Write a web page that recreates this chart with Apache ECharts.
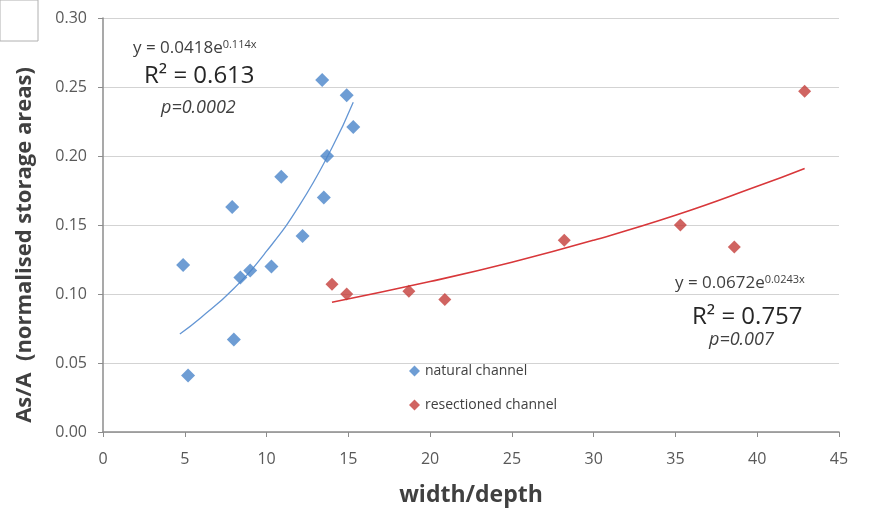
<!DOCTYPE html>
<html>
<head>
<meta charset="utf-8">
<script src="https://cdn.jsdelivr.net/npm/echarts@6/dist/echarts.min.js"></script>
<style>
  html, body { margin: 0; padding: 0; background: #fff; }
  #chart { width: 883px; height: 514px; }
</style>
</head>
<body>
<div id="chart"></div>
<script>
// points: [width/depth, As/A]
const naturalPoints = [
  [4.9, 0.121], [5.2, 0.041], [7.9, 0.163], [8.0, 0.067], [8.4, 0.112],
  [9.0, 0.117], [10.3, 0.120], [10.9, 0.185], [12.2, 0.142], [13.4, 0.255],
  [13.5, 0.170], [13.7, 0.200], [14.9, 0.244], [15.3, 0.221]
];
const resectionedPoints = [
  [14.0, 0.107], [14.9, 0.100], [18.7, 0.102], [20.9, 0.096],
  [28.2, 0.139], [35.3, 0.150], [38.6, 0.134], [42.9, 0.247]
];

// trend curves
const naturalTrend = [
  [4.7, 0.071], [6, 0.083], [8, 0.104], [10, 0.131], [12, 0.164], [14, 0.206], [15.3, 0.239]
];
const resectionedTrend = [
  [14, 0.094], [20, 0.109], [25, 0.123], [30, 0.139], [35, 0.157], [40, 0.178], [42.9, 0.191]
];

const xTicks = [0, 5, 10, 15, 20, 25, 30, 35, 40, 45];
const yTicks = [0, 0.05, 0.10, 0.15, 0.20, 0.25, 0.30];

const blue = '#4A84C9';
const red = '#C43D3A';
const font = '"Open Sans", Lato, sans-serif';
const textDark = '#404040';

const chart = echarts.init(document.getElementById('chart'));

// equation labels with a superscript exponent
const eqRich = {
  b: { fontSize: 17, fontFamily: font, fill: textDark },
  s: { fontSize: 11, fontFamily: font, fill: textDark, verticalAlign: 'top' }
};

chart.setOption({
  backgroundColor: '#fff',
  animation: false,
  grid: { left: 103, right: 44, top: 18, bottom: 82 },
  xAxis: {
    type: 'value',
    min: xTicks[0],
    max: xTicks[xTicks.length - 1],
    interval: 5,
    name: 'width/depth',
    nameLocation: 'middle',
    nameGap: 52,
    nameTextStyle: { fontFamily: font, fontSize: 23, fontWeight: 'bold', color: textDark },
    axisLine: { lineStyle: { color: '#8C8C8C', width: 1.5 } },
    axisTick: { show: true, length: 5, lineStyle: { color: '#8C8C8C' } },
    axisLabel: { fontFamily: font, fontSize: 16, color: '#595959', margin: 19 },
    splitLine: { show: false }
  },
  yAxis: {
    type: 'value',
    min: yTicks[0],
    max: yTicks[yTicks.length - 1],
    interval: 0.05,
    axisLine: { show: true, lineStyle: { color: '#8C8C8C', width: 1.5 } },
    axisTick: { show: true, length: 5, lineStyle: { color: '#8C8C8C' } },
    axisLabel: {
      fontFamily: font, fontSize: 16, color: '#595959', margin: 16,
      formatter: v => v.toFixed(2)
    },
    splitLine: { lineStyle: { color: '#D3D3D3' } }
  },
  legend: {
    orient: 'vertical',
    left: 404,
    top: 359,
    itemGap: 20,
    itemWidth: 11,
    itemHeight: 11,
    icon: 'diamond',
    textStyle: { fontFamily: font, fontSize: 14, color: textDark },
    data: ['natural channel', 'resectioned channel']
  },
  series: [
    {
      name: 'natural channel',
      type: 'scatter',
      symbol: 'diamond',
      symbolSize: 14,
      itemStyle: { color: blue },
      data: naturalPoints,
      z: 3
    },
    {
      name: 'resectioned channel',
      type: 'scatter',
      symbol: 'diamond',
      symbolSize: 13,
      itemStyle: { color: red },
      data: resectionedPoints,
      z: 3
    },
    {
      name: 'natural trend',
      type: 'line',
      smooth: true,
      showSymbol: false,
      lineStyle: { color: '#6496D4', width: 1.3 },
      data: naturalTrend,
      z: 2
    },
    {
      name: 'resectioned trend',
      type: 'line',
      smooth: true,
      showSymbol: false,
      lineStyle: { color: '#D8373A', width: 1.6 },
      data: resectionedTrend,
      z: 2
    }
  ],
  graphic: [
    {
      type: 'rect',
      shape: { x: 0, y: 0, width: 38, height: 41 },
      style: { fill: '#fff', stroke: '#B0B0B0', lineWidth: 1 }
    },
    {
      type: 'text', x: 25, y: 245, rotation: Math.PI / 2,
      style: {
        text: 'As/A  (normalised storage areas)', fontFamily: font, fontSize: 22,
        fontWeight: 'bold', fill: textDark, align: 'center', verticalAlign: 'middle'
      }
    },
    {
      type: 'text', x: 133, y: 48,
      style: { text: '{b|y = 0.0418e}{s|0.114x}', rich: eqRich, verticalAlign: 'middle' }
    },
    {
      type: 'text', x: 144, y: 76,
      style: { text: 'R² = 0.613', fontFamily: font, fontSize: 24, fill: '#262626', verticalAlign: 'middle' }
    },
    {
      type: 'text', x: 161, y: 108,
      style: { text: 'p=0.0002', fontFamily: font, fontSize: 18, fontStyle: 'italic', fill: textDark, verticalAlign: 'middle' }
    },
    {
      type: 'text', x: 675, y: 283,
      style: { text: '{b|y = 0.0672e}{s|0.0243x}', rich: eqRich, verticalAlign: 'middle' }
    },
    {
      type: 'text', x: 692, y: 317,
      style: { text: 'R² = 0.757', fontFamily: font, fontSize: 24, fill: '#262626', verticalAlign: 'middle' }
    },
    {
      type: 'text', x: 709, y: 340,
      style: { text: 'p=0.007', fontFamily: font, fontSize: 18, fontStyle: 'italic', fill: textDark, verticalAlign: 'middle' }
    }
  ]
});
</script>
</body>
</html>
